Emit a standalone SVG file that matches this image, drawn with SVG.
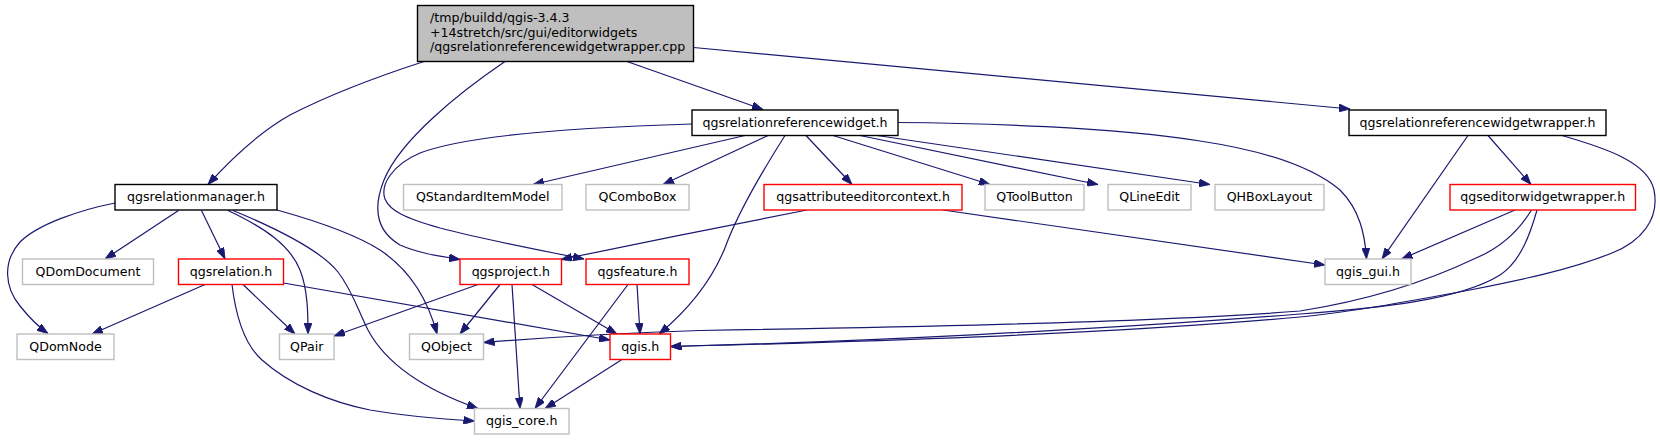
<svg xmlns="http://www.w3.org/2000/svg" width="1660" height="440" viewBox="0 0 1660 440">
<style>
rect{fill:#fff;stroke-width:1.4}
.k{stroke:#000}
.r{stroke:#ff0000}
.g{stroke:#bfbfbf}
.m{fill:#bfbfbf;stroke:#000}
text{font-family:"DejaVu Sans","Liberation Sans",sans-serif;font-size:12.6px;fill:#000;text-anchor:middle}
.l{text-anchor:start}
.e path{fill:none;stroke:#191970;stroke-width:1.2;marker-end:url(#ah)}
</style>
<defs>
<marker id="ah" viewBox="0 0 11 8" refX="11" refY="4" markerWidth="11" markerHeight="8" markerUnits="userSpaceOnUse" orient="auto">
<path d="M0,0 L11,4 L0,8 z" fill="#191970" stroke="#191970" stroke-width="0.8"/>
</marker>
</defs>
<rect width="1660" height="440" style="fill:#fff;stroke:none"/>
<g class="e" id="edges">
<path d="M424,61.5 C370,79 325,97 290,115 C258,133 232,158 208,184.5"/>
<path d="M505,61.5 C460,92 400,140 384,180 C372,210 378,232 400,245 C418,253 438,256 460,259.5"/>
<path d="M627,61.5 L763,109.5"/>
<path d="M693.5,47.5 L1350,109"/>
<path d="M115,203 C80,210 38,224 20,242 C2,262 5,288 20,306 C28,316 36,325 48,333.5"/>
<path d="M178.5,210.5 L105,259"/>
<path d="M201.5,210.5 L225,259"/>
<path d="M228,210.5 C265,228 290,245 300,270 C308,290 308,315 308,334"/>
<path d="M233,210.5 C285,232 322,252 338,272 C352,290 358,310 368,330 C385,362 420,388 478,408.5"/>
<path d="M277,210 C320,222 355,234 380,250 C410,270 428,300 437,334"/>
<path d="M205,284.5 L92,334"/>
<path d="M243,284.5 L295,334"/>
<path d="M232,284.5 C236,318 245,345 262,360 C290,385 330,402 370,410 C405,416 440,419 474.5,421"/>
<path d="M283.5,283 L610,340"/>
<path d="M478,284.5 L334,336"/>
<path d="M500,284.5 L460,334"/>
<path d="M512,284.5 L520,408.5"/>
<path d="M532,284.5 L617,334"/>
<path d="M628,284.5 L535,408.5"/>
<path d="M637,284.5 L640,334"/>
<path d="M622,359.5 L545,408.5"/>
<path d="M745,135.5 L533,184.5"/>
<path d="M768,135.5 L663,184.5"/>
<path d="M785,135.5 C760,175 740,210 728,240 C718,268 700,300 659,334"/>
<path d="M806,135.5 L852,184.5"/>
<path d="M833,135.5 L990,184.5"/>
<path d="M860,135.5 L1098,184.5"/>
<path d="M877,135.5 L1210,184.5"/>
<path d="M898,122.5 C980,123 1110,127 1200,141 C1260,150 1310,165 1340,190 C1360,210 1365,235 1366.5,259"/>
<path d="M692,124 C590,127 470,134 420,153 C392,165 380,185 385,199 C390,211 405,218 440,228 C490,241 545,251 584,259"/>
<path d="M807,210 C745,222 630,245 561,259.5"/>
<path d="M943,210 L1325,265"/>
<path d="M1468,135.5 L1382,259"/>
<path d="M1488,135.5 L1531,184.5"/>
<path d="M1562,135.5 C1605,148 1648,162 1654,190 C1660,220 1640,242 1612,253 C1570,270 1520,280 1470,290 C1400,303 1350,312 1300,317 C1100,335 850,342 670.5,346.5"/>
<path d="M1515,210 L1401.5,259"/>
<path d="M1531.5,210 C1518,232 1500,248 1476,258 C1430,280 1370,300 1300,311 C1150,323 850,328 700,330.5 C620,333 540,338 483.5,342.5"/>
<path d="M1537,210 C1530,235 1520,262 1500,275 C1460,300 1380,308 1300,314 C1100,330 850,342 670.5,346.5"/>
</g>
<g id="main"><rect class="m" x="417.5" y="5.5" width="276" height="56"/><text class="l" x="430" y="22">/tmp/buildd/qgis-3.4.3</text><text class="l" x="430" y="36.5">+14stretch/src/gui/editorwidgets</text><text class="l" x="430" y="51">/qgsrelationreferencewidgetwrapper.cpp</text></g>
<g id="n_widget"><rect class="k" x="692" y="110" width="206" height="25.5"/><text x="795" y="126.7">qgsrelationreferencewidget.h</text></g>
<g id="n_wrapper"><rect class="k" x="1349" y="110" width="257" height="25.5"/><text x="1477.5" y="126.7">qgsrelationreferencewidgetwrapper.h</text></g>
<g id="n_relmgr"><rect class="k" x="115" y="184.5" width="162" height="25.5"/><text x="196" y="201.2">qgsrelationmanager.h</text></g>
<g id="n_qsim"><rect class="g" x="403.5" y="184.5" width="158.5" height="25.5"/><text x="482.75" y="201.2">QStandardItemModel</text></g>
<g id="n_qcombo"><rect class="g" x="586" y="184.5" width="103" height="25.5"/><text x="637.5" y="201.2">QComboBox</text></g>
<g id="n_aec"><rect class="r" x="764" y="184.5" width="198" height="25.5"/><text x="863" y="201.2">qgsattributeeditorcontext.h</text></g>
<g id="n_qtool"><rect class="g" x="985" y="184.5" width="99" height="25.5"/><text x="1034.5" y="201.2">QToolButton</text></g>
<g id="n_qline"><rect class="g" x="1108" y="184.5" width="83" height="25.5"/><text x="1149.5" y="201.2">QLineEdit</text></g>
<g id="n_qhbox"><rect class="g" x="1215" y="184.5" width="109" height="25.5"/><text x="1269.5" y="201.2">QHBoxLayout</text></g>
<g id="n_editorww"><rect class="r" x="1450" y="184.5" width="185.5" height="25.5"/><text x="1542.75" y="201.2">qgseditorwidgetwrapper.h</text></g>
<g id="n_qdomdoc"><rect class="g" x="22.5" y="259" width="131" height="25.5"/><text x="88" y="275.7">QDomDocument</text></g>
<g id="n_relation"><rect class="r" x="178.5" y="259" width="105" height="25.5"/><text x="231" y="275.7">qgsrelation.h</text></g>
<g id="n_project"><rect class="r" x="460" y="259" width="101.5" height="25.5"/><text x="510.75" y="275.7">qgsproject.h</text></g>
<g id="n_feature"><rect class="r" x="586" y="259" width="103" height="25.5"/><text x="637.5" y="275.7">qgsfeature.h</text></g>
<g id="n_qgisgui"><rect class="g" x="1325" y="259" width="86" height="25.5"/><text x="1368" y="275.7">qgis_gui.h</text></g>
<g id="n_qdomnode"><rect class="g" x="17" y="334" width="97" height="25.5"/><text x="65.5" y="350.7">QDomNode</text></g>
<g id="n_qpair"><rect class="g" x="279.5" y="334" width="54.5" height="25.5"/><text x="306.75" y="350.7">QPair</text></g>
<g id="n_qobject"><rect class="g" x="409.5" y="334" width="74" height="25.5"/><text x="446.5" y="350.7">QObject</text></g>
<g id="n_qgis"><rect class="r" x="610" y="334" width="60.5" height="25.5"/><text x="640.25" y="350.7">qgis.h</text></g>
<g id="n_qgiscore"><rect class="g" x="474.5" y="408.5" width="94.5" height="25.5"/><text x="521.75" y="425.2">qgis_core.h</text></g>
</svg>
